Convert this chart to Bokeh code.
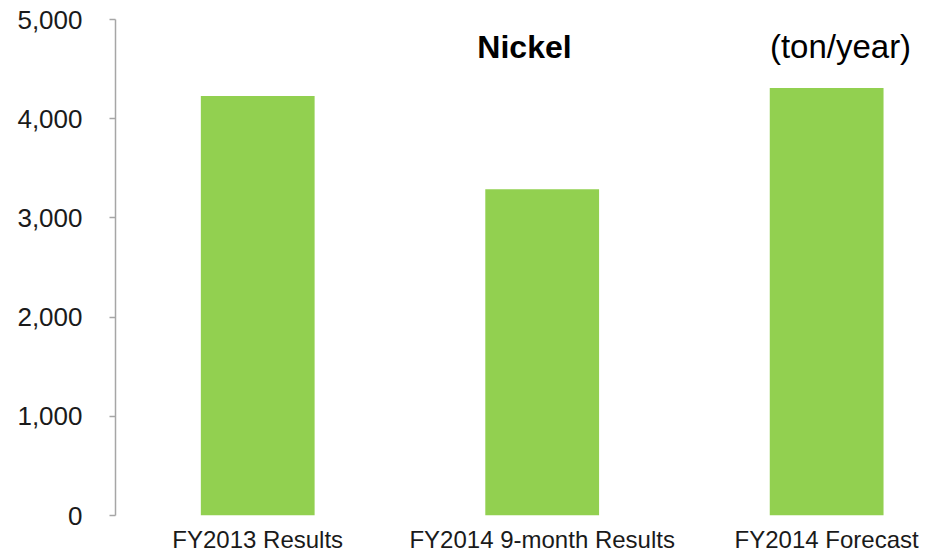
from bokeh.plotting import figure
from bokeh.models import Range1d, FixedTicker, NumeralTickFormatter, Label, ColumnDataSource
from bokeh.embed import file_html
from bokeh.resources import INLINE

categories = ["FY2013 Results", "FY2014 9-month Results", "FY2014 Forecast"]
values = [4230, 3290, 4310]
y_ticks = [0, 1000, 2000, 3000, 4000, 5000]

FONT = "Liberation Sans"
idx = list(range(len(categories)))
src = ColumnDataSource(dict(x=idx, top=values))

p = figure(width=924, height=555, output_backend="svg", toolbar_location=None,
           x_range=Range1d(-0.5, 2.344), y_range=Range1d(0, 5000),
           min_border_left=115, min_border_right=0, min_border_top=19, min_border_bottom=30)
p.outline_line_color = None
p.grid.visible = False
p.background_fill_color = "white"
p.border_fill_color = "white"

p.vbar(x="x", top="top", width=0.4, bottom=0, source=src,
       fill_color="#92D050", line_color=None)

ya = p.yaxis[0]
ya.ticker = FixedTicker(ticks=y_ticks)
ya.formatter = NumeralTickFormatter(format="0,0")
ya.axis_line_color = "#A6A6A6"
ya.axis_line_width = 1.5
ya.major_tick_line_color = "#A6A6A6"
ya.major_tick_line_width = 1.5
ya.major_tick_out = 6
ya.major_tick_in = 0
ya.minor_tick_line_color = None
ya.major_label_text_font = FONT
ya.major_label_text_font_size = "26px"
ya.major_label_text_color = "#1a1a1a"
ya.major_label_standoff = 27

xa = p.xaxis[0]
xa.ticker = FixedTicker(ticks=idx)
xa.major_label_overrides = {i: c for i, c in zip(idx, categories)}
xa.axis_line_color = None
xa.major_tick_line_color = None
xa.major_tick_out = 0
xa.major_tick_in = 0
xa.minor_tick_line_color = None
xa.major_label_text_font = FONT
xa.major_label_text_font_size = "24px"
xa.major_label_text_color = "#1a1a1a"
xa.major_label_standoff = 10

p.add_layout(Label(x=409, y=469, x_units="screen", y_units="screen", text="Nickel",
                   text_font=FONT, text_font_size="32px", text_font_style="bold",
                   text_align="center", text_baseline="middle", text_color="#000000"))
p.add_layout(Label(x=725, y=469, x_units="screen", y_units="screen", text="(ton/year)",
                   text_font=FONT, text_font_size="33px",
                   text_align="center", text_baseline="middle", text_color="#000000"))
p.add_layout(Label(x=-105, y=-36, x_units="screen", y_units="screen", text="t",
                   text_font=FONT, text_font_size="24px",
                   text_align="left", text_baseline="bottom", text_color="#1a1a1a"))

open("out.html", "w").write(file_html(p, INLINE))
